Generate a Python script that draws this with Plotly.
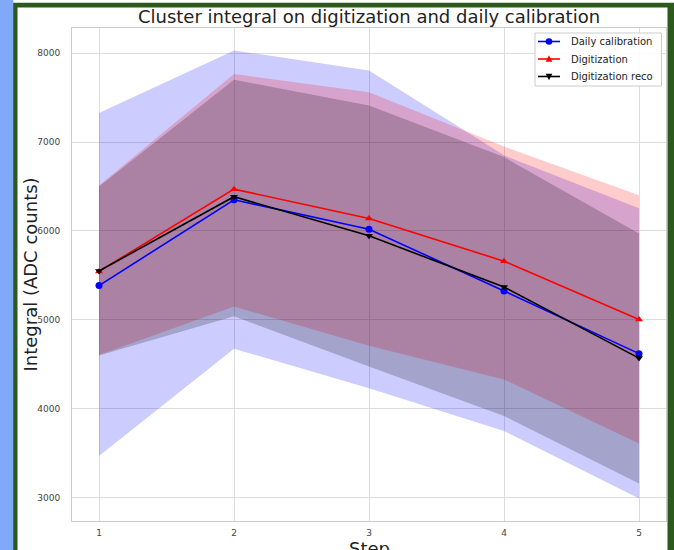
import plotly.graph_objects as go

# data
steps = [1, 2, 3, 4, 5]
daily_calib = [5385, 6350, 6020, 5325, 4620]
digitization = [5545, 6470, 6140, 5660, 5005]
digi_reco = [5550, 6385, 5945, 5370, 4570]

daily_up = [7325, 8030, 7805, 6850, 6255]
daily_lo = [3470, 4675, 4230, 3750, 2990]
digi_up = [6510, 7765, 7560, 6950, 6400]
digi_lo = [4605, 5150, 4710, 4330, 3610]
reco_up = [6500, 7700, 7410, 6830, 5970]
reco_lo = [4600, 5040, 4475, 3920, 3160]

y_ticks = [3000, 4000, 5000, 6000, 7000, 8000]

W, H = 674, 550
ML, MR, MT, MB = 72, 8, 28, 29
PW, PH = W - ML - MR, H - MT - MB


def px(x):
    return (x - ML) / PW


def py(y):
    return (H - MB - y) / PH


fig = go.Figure()

# std bands
bands = [
    (daily_up, daily_lo, 'rgba(0,0,255,0.2)'),
    (digi_up, digi_lo, 'rgba(255,0,0,0.2)'),
    (reco_up, reco_lo, 'rgba(0,0,0,0.2)'),
]
for up, lo, col in bands:
    fig.add_trace(go.Scatter(
        x=steps + steps[::-1], y=up + lo[::-1], fill='toself',
        fillcolor=col, line=dict(width=0), mode='lines',
        showlegend=False, hoverinfo='skip',
    ))

series = [
    ('Daily calibration', daily_calib, '#0000ff', 'circle'),
    ('Digitization', digitization, '#ff0000', 'triangle-up'),
    ('Digitization reco', digi_reco, '#000000', 'triangle-down'),
]
for name, vals, col, sym in series:
    fig.add_trace(go.Scatter(
        x=steps, y=vals, mode='lines+markers', name=name,
        line=dict(color=col, width=1.6),
        marker=dict(symbol=sym, size=7, color=col),
        showlegend=False,
    ))

# picture frame around the figure (screenshot border)
green = '#2b5a1c'
lblue = '#80a9f8'
shapes = [
    dict(type='rect', xref='paper', yref='paper', layer='below',
         x0=px(13), x1=px(674), y0=py(550), y1=py(2.7),
         fillcolor=green, line=dict(width=0)),
    dict(type='rect', xref='paper', yref='paper', layer='below',
         x0=px(17.5), x1=px(667.5), y0=py(550), y1=py(7.5),
         fillcolor='white', line=dict(width=0)),
    dict(type='rect', xref='paper', yref='paper', layer='below',
         x0=px(0), x1=px(13.3), y0=py(550), y1=py(0),
         fillcolor=lblue, line=dict(width=0)),
]

# matplotlib-like legend box (drawn with shapes, page pixels)
leg_x0, leg_x1, leg_y0, leg_y1 = 535, 661.5, 33, 86
leg_rows = [41.5, 59, 76.5]
shapes.append(dict(
    type='rect', xref='paper', yref='paper', layer='above',
    x0=px(leg_x0), x1=px(leg_x1), y0=py(leg_y1), y1=py(leg_y0),
    fillcolor='rgba(255,255,255,0.9)', line=dict(color='#cccccc', width=1)))
cx, r = 549, 3.3
for (name, vals, col, sym), ry in zip(series, leg_rows):
    shapes.append(dict(type='line', xref='paper', yref='paper', layer='above',
                       x0=px(538), x1=px(560), y0=py(ry), y1=py(ry),
                       line=dict(color=col, width=1.6)))
    if sym == 'circle':
        shapes.append(dict(type='circle', xref='paper', yref='paper', layer='above',
                           x0=px(cx - r), x1=px(cx + r), y0=py(ry + r), y1=py(ry - r),
                           fillcolor=col, line=dict(width=0)))
    else:
        s = -1 if sym == 'triangle-up' else 1
        pts = [(cx - r, ry - s * r * 0.8), (cx + r, ry - s * r * 0.8), (cx, ry + s * r * 1.1)]
        path = 'M ' + ' L '.join(f'{px(a):.5f},{py(b):.5f}' for a, b in pts) + ' Z'
        shapes.append(dict(type='path', xref='paper', yref='paper', layer='above',
                           path=path, fillcolor=col, line=dict(width=0)))

# axis titles as annotations so they sit where the reference has them
annotations = [
    dict(text='Integral (ADC counts)', textangle=-90, showarrow=False,
         xref='paper', yref='paper', x=px(30), y=0.5,
         xanchor='center', yanchor='middle',
         font=dict(size=18, color='#222222')),
    dict(text='Step', showarrow=False,
         xref='paper', yref='paper', x=0.5, y=py(548),
         xanchor='center', yanchor='middle',
         font=dict(size=18, color='#222222')),
]
for (name, vals, col, sym), ry in zip(series, leg_rows):
    annotations.append(dict(
        text=name, showarrow=False, xref='paper', yref='paper',
        x=px(569), y=py(ry), xanchor='left', yanchor='middle',
        font=dict(size=10, color='#222222'),
    ))

fig.update_layout(
    width=W, height=H,
    margin=dict(l=ML, r=MR, t=MT, b=MB, autoexpand=False),
    paper_bgcolor='white', plot_bgcolor='white',
    font=dict(family='DejaVu Sans', color='#222222'),
    shapes=shapes, annotations=annotations,
    showlegend=False,
    title=dict(
        text='Cluster integral on digitization and daily calibration',
        x=0.5, xref='paper', y=1 - 16.7 / H, yanchor='middle',
        font=dict(size=18, color='#222222'),
    ),
    xaxis=dict(
        range=[0.8, 5.2], tickvals=steps, ticks='', automargin=False,
        showgrid=True, gridcolor='#dddddd', gridwidth=1,
        showline=True, linecolor='#cccccc', mirror=True,
        zeroline=False, tickfont=dict(size=9, color='#444444'),
        ticklabelstandoff=3,
    ),
    yaxis=dict(
        range=[2738, 8282], tickvals=y_ticks, ticks='', tickformat='d',
        automargin=False,
        showgrid=True, gridcolor='#dddddd', gridwidth=1,
        showline=True, linecolor='#cccccc', mirror=True,
        zeroline=False, tickfont=dict(size=9, color='#444444'),
        ticklabelstandoff=9,
    ),
)

fig.write_html('out.html', config={'displayModeBar': False},
               post_script="document.body.style.margin='0';")
